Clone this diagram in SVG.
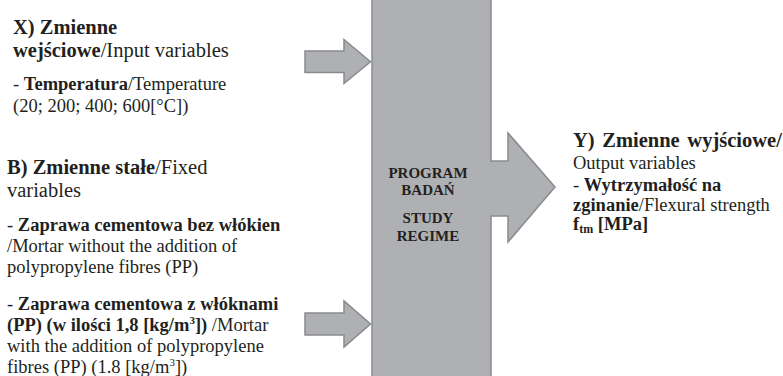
<svg xmlns="http://www.w3.org/2000/svg" width="783" height="376" viewBox="0 0 783 376">
<style>
.shape{fill:#AFB0B3;stroke:#8A8B8D;stroke-width:1.5;stroke-linejoin:miter}
text{font-family:"Liberation Serif","Times New Roman",serif;fill:#231F20}
.h{font-size:20.5px}
.b{font-size:18.5px}
.bd{font-weight:bold}
.c{font-size:15px;font-weight:bold;text-anchor:middle}
</style>
<rect width="783" height="376" fill="#ffffff"/>
<g id="connectors">
<path class="shape" d="M305,51 L344,51 L344,39.5 L370.5,61.8 L344,83.5 L344,72.5 L305,72.5 Z"/>
<path class="shape" d="M305,313 L344,313 L344,301 L370.5,324 L344,347 L344,335 L305,335 Z"/>
</g>
<g id="study-regime">
<path class="shape" d="M372,-3 L491,-3 L491,161 L508,161 L508,133 L555,187 L508,242 L508,216 L491,216 L491,380 L372,380 Z"/>
<text class="c" x="428" y="178">PROGRAM</text>
<text class="c" x="428" y="195">BADAŃ</text>
<text class="c" x="428" y="223">STUDY</text>
<text class="c" x="428" y="241">REGIME</text>
</g>
<g id="input-variables">
<text class="h" x="13" y="34"><tspan class="bd">X) Zmienne</tspan></text>
<text class="h" x="13" y="57"><tspan class="bd">wejściowe</tspan>/Input variables</text>
<text class="b" x="13" y="90">- <tspan class="bd">Temperatura</tspan>/Temperature</text>
<text class="b" x="13" y="112">(20; 200; 400; 600[°C])</text>
</g>
<g id="fixed-variables">
<text class="h" x="7" y="174"><tspan class="bd">B) Zmienne stałe</tspan>/Fixed</text>
<text class="h" x="7" y="197">variables</text>
<text class="b" x="7" y="231">- <tspan class="bd">Zaprawa cementowa bez włókien</tspan></text>
<text class="b" x="7" y="252">/Mortar without the addition of</text>
<text class="b" x="7" y="273">polypropylene fibres (PP)</text>
<text class="b" x="7" y="310">- <tspan class="bd">Zaprawa cementowa z włóknami</tspan></text>
<text class="b" x="7" y="331"><tspan class="bd">(PP) (w ilości 1,8 [kg/m<tspan font-size="11" dy="-7">3</tspan><tspan dy="7">])</tspan></tspan> /Mortar</text>
<text class="b" x="7" y="352">with the addition of polypropylene</text>
<text class="b" x="7" y="373">fibres (PP) (1.8 [kg/m<tspan font-size="11" dy="-7">3</tspan><tspan dy="7">])</tspan></text>
</g>
<g id="output-variables">
<text class="h" x="573" y="147"><tspan class="bd" word-spacing="2.5">Y) Zmienne wyjściowe/</tspan></text>
<text class="b" x="573" y="169">Output variables</text>
<text class="b" x="573" y="191">- <tspan class="bd">Wytrzymałość na</tspan></text>
<text class="b" x="573" y="211"><tspan class="bd">zginanie</tspan>/Flexural strength</text>
<text class="b bd" x="573" y="230">f<tspan font-size="12" dy="3">tm</tspan><tspan dy="-3"> [MPa]</tspan></text>
</g>
</svg>
